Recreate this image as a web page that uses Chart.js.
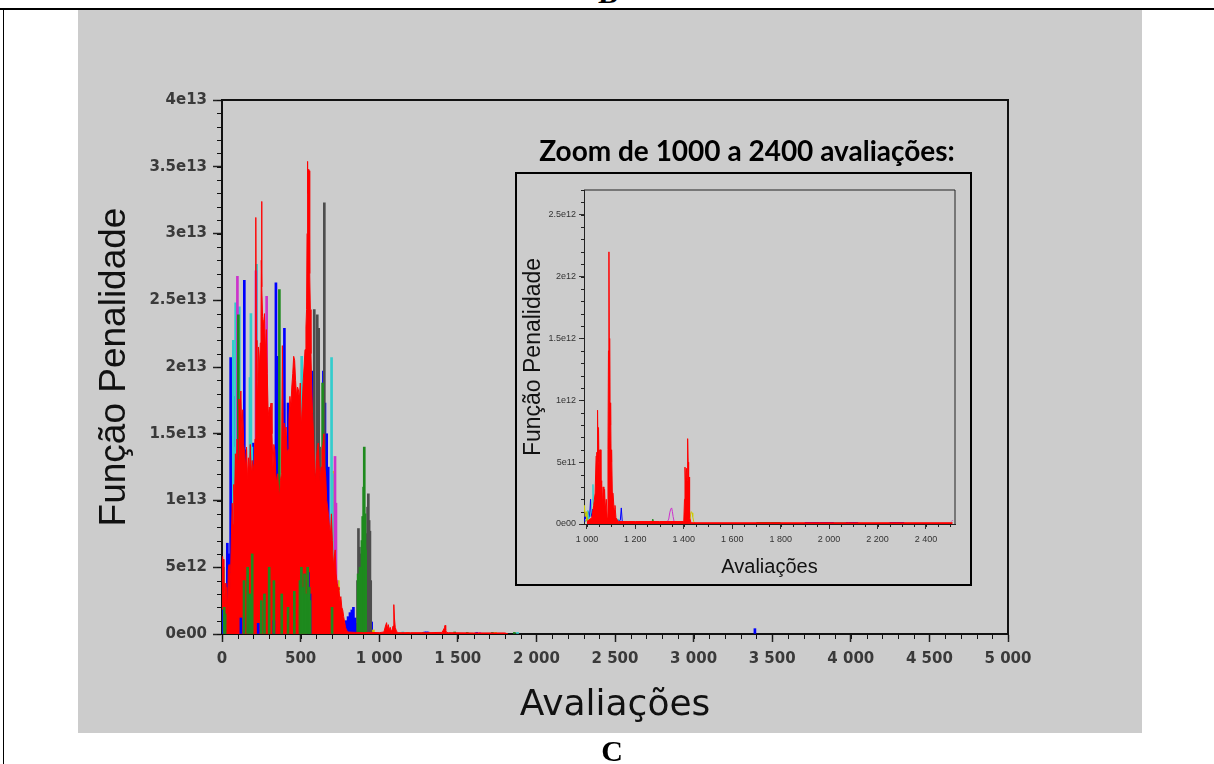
<!DOCTYPE html>
<html>
<head>
<meta charset="utf-8">
<script src="https://cdn.jsdelivr.net/npm/chart.js@4.4.1/dist/chart.umd.min.js"></script>
<style>
  body { margin: 0; width: 1214px; height: 764px; background: #fff; position: relative; overflow: hidden; }
  #topLine { position: absolute; left: 0; top: 8px; width: 1214px; height: 2px; background: #000; }
  #leftLine { position: absolute; left: 3px; top: 8px; width: 1px; height: 756px; background: #000; }
  #topCut { position: absolute; left: 598px; top: 0; width: 20px; height: 3px; overflow: hidden; }
  #topCut span { position: absolute; left: 0; bottom: -5px; font: bold 30px/1 "Liberation Serif", serif; }
  #panel { position: absolute; left: 78px; top: 10px; width: 1064px; height: 723px; background: #cccccc; }
  #mainChart { position: absolute; left: 0; top: 0; }
  #insetChart { position: absolute; left: 515px; top: 172px; }
  #insetFrame { position: absolute; left: 515px; top: 172px; width: 457px; height: 414px; box-sizing: border-box; border: 2px solid #000; }
  #insetTitle { position: absolute; left: 515px; top: 136px; width: 464px; text-align: center; font: bold 28px/28px Lato, "Open Sans", sans-serif; color: #000; white-space: nowrap; }
  #letter { position: absolute; left: 0; top: 736px; width: 1224px; text-align: center; font: bold 30px/30px "Liberation Serif", serif; color: #000; }
</style>
</head>
<body>
<div id="topLine"></div>
<div id="leftLine"></div>
<div id="topCut"><span>B</span></div>
<div id="panel"></div>
<canvas id="mainChart" width="1214" height="764"></canvas>
<canvas id="insetChart" width="457" height="414"></canvas>
<div id="insetFrame"></div>
<div id="insetTitle">Zoom de 1000 a 2400 avaliações:</div>
<div id="letter">C</div>
<script>
// tick labels
const mainXTicks = [0, 500, 1000, 1500, 2000, 2500, 3000, 3500, 4000, 4500, 5000];
const mainYTicks = [0, 5e12, 1e13, 1.5e13, 2e13, 2.5e13, 3e13, 3.5e13, 4e13];
const insetXTicks = [1000, 1200, 1400, 1600, 1800, 2000, 2200, 2400];
const insetYTicks = [0, 5e11, 1e12, 1.5e12, 2e12, 2.5e12];

// main chart, values in units of 1e12
const redX = [0, 4, 8, 12, 16, 20, 25, 30, 35, 40,
  45, 50, 55, 60, 65, 70, 75, 80, 85, 90,
  96, 102, 108, 114, 120, 126, 132, 138, 144, 150,
  156, 162, 168, 174, 180, 186, 192, 198, 204, 210,
  214, 216, 218, 222, 226, 232, 238, 244, 248, 250,
  252, 254, 258, 264, 270, 276, 282, 288, 294, 300,
  306, 312, 318, 324, 330, 336, 342, 348, 354, 360,
  366, 372, 378, 384, 390, 396, 402, 408, 414, 420,
  426, 432, 438, 444, 450, 456, 462, 468, 474, 480,
  486, 492, 498, 504, 510, 516, 522, 528, 534, 538,
  541, 543, 546, 549, 552, 555, 558, 562, 566, 570,
  576, 582, 588, 594, 600, 606, 612, 618, 624, 630,
  636, 642, 648, 654, 660, 666, 672, 678, 684, 690,
  696, 702, 708, 714, 720, 726, 732, 738, 744, 750,
  756, 762, 768, 774, 780, 786, 792, 800, 850, 900,
  950, 1000, 1030, 1040, 1047, 1052, 1058, 1064, 1070, 1076,
  1082, 1088, 1092, 1094, 1097, 1102, 1110, 1120, 1200, 1300,
  1400, 1412, 1416, 1419, 1423, 1428, 1440, 1600, 1800, 1820];
const redY = [5.8, 4.5, 5.6, 3.2, 2.4, 3.8, 2.0, 3.5, 1.8, 4.8,
  5.2, 3.0, 4.6, 7.5, 9.8, 8.2, 11.2, 10.0, 13.5, 12.0,
  14.6, 13.0, 17.6, 16.2, 18.2, 15.0, 16.8, 14.2, 13.6, 12.4,
  14.0, 11.6, 13.2, 12.0, 14.2, 11.8, 13.0, 12.2, 12.8, 14.6,
  18.0, 31.2, 22.0, 19.0, 17.5, 21.5, 20.0, 21.8, 23.0, 28.0,
  32.4, 26.0, 23.8, 23.0, 24.0, 21.0, 22.8, 19.5, 16.3, 17.0,
  16.8, 17.3, 15.0, 12.5, 14.2, 13.8, 12.0, 11.3, 12.0, 10.8,
  10.3, 11.5, 12.0, 21.6, 14.0, 15.8, 15.2, 15.5, 13.5, 13.8,
  16.0, 17.8, 17.0, 18.5, 19.5, 20.8, 20.5, 19.0, 17.8, 18.5,
  18.3, 17.6, 18.8, 15.3, 17.0, 18.8, 20.0, 21.3, 23.0, 24.3,
  30.0, 35.4, 33.0, 34.8, 30.0, 34.7, 27.0, 24.3, 21.0, 18.8,
  16.5, 15.0, 12.5, 11.3, 13.0, 13.8, 14.3, 12.6, 11.3, 12.5,
  13.8, 14.2, 15.0, 12.5, 11.8, 10.0, 9.5, 8.8, 8.0, 7.5,
  9.0, 7.0, 5.0, 5.8, 6.3, 4.5, 3.8, 3.5, 3.3, 2.5,
  2.8, 2.0, 1.8, 1.3, 0.9, 0.5, 0.3, 0.15, 0.12, 0.1,
  0.12, 0.1, 0.15, 0.6, 0.85, 0.4, 0.7, 0.3, 0.5, 0.2,
  0.3, 0.6, 1.6, 2.2, 1.2, 0.5, 0.2, 0.1, 0.1, 0.1,
  0.12, 0.4, 0.5, 0.65, 0.3, 0.12, 0.1, 0.08, 0.08, 0];

// spikes rising above the red mass
const blueX = [34, 42, 55, 60, 64, 68, 72, 81, 142, 151, 199, 205, 343, 352, 397, 407, 420, 426, 488,
  577, 585, 645, 655, 666, 676, 687, 697, 790, 802, 814, 826, 836, 848, 860, 872, 884, 896, 908,
  920, 932, 944, 952, 1290, 1300, 1310, 1620, 3390];
const blueY = [6.8, 6.0, 20.7, 14.8, 14.8, 12.0, 11.3, 17.8, 26.5, 13.8, 14.3, 10.5, 26.3, 20.8, 22.9, 14.8, 17.3, 12.0, 11.4,
  19.7, 10.3, 19.7, 17.3, 15.0, 12.5, 7.5, 3.8, 1.0, 1.3, 1.6, 1.8, 2.0, 1.2, 0.8, 1.0, 1.2, 0.9, 1.1,
  1.0, 1.1, 0.9, 0.9, 0.15, 0.15, 0.15, 0.12, 0.4];

const greenX = [8, 104, 110, 157, 170, 186, 199, 365, 372, 640, 646, 866, 878, 890, 895, 901, 905, 910,
  914, 1280, 1480, 1560, 1720, 1860];
const greenY = [5.0, 23.9, 9.0, 11.3, 10.5, 11.3, 10.0, 25.8, 8.0, 18.8, 11.0, 4.5, 5.0, 7.0, 8.8, 11.0, 14.0, 9.0,
  6.3, 0.12, 0.15, 0.12, 0.12, 0.12];

const grayX = [587, 594, 606, 615, 621, 651, 657, 862, 868, 874, 880, 886, 892, 898, 904, 910, 916, 920, 926, 931,
  936, 941, 946];
const grayY = [24.3, 12.0, 23.9, 22.9, 14.0, 32.3, 9.0, 4.0, 7.9, 6.5, 5.5, 6.0, 5.0, 6.5, 7.0, 7.0, 7.5, 7.5, 9.5, 10.5,
  8.5, 7.7, 4.0];

const cyanX = [4, 72, 78, 87, 93, 110, 116, 178, 184, 190, 220, 507, 512, 697, 702, 1150, 1880];
const cyanY = [1.5, 22.0, 14.0, 24.8, 18.8, 24.5, 12.0, 19.2, 24.0, 14.0, 27.7, 20.8, 10.0, 20.7, 12.0, 0.15, 0.12];

const magentaX = [98, 216, 284, 290, 719, 725, 731, 1640];
const magentaY = [26.8, 27.2, 25.3, 12.0, 13.3, 9.8, 4.0, 0.12];

const yellowX = [4, 222, 228, 488, 708, 714, 740, 963, 1180, 1740];
const yellowY = [2.5, 19.0, 12.0, 11.3, 12.2, 8.0, 4.0, 0.3, 0.12, 0.12];

const orangeX = [261, 266];
const orangeY = [23.5, 14.0];

// short marks in front of the red mass, near the floor
const greenLowX = [14, 20, 140, 163, 178, 192, 250, 270, 300, 330, 380, 420, 460, 496, 505, 515, 525, 535, 545, 555, 560, 700];
const greenLowY = [2.0, 1.5, 4.0, 5.0, 3.0, 6.0, 2.5, 3.0, 5.0, 4.0, 3.0, 2.0, 3.2, 4.0, 5.0, 3.5, 4.5, 3.0, 5.0, 3.5, 2.5, 2.0];
const blueLowX = [8, 120, 230, 330, 549, 560];
const blueLowY = [1.8, 1.2, 0.8, 1.0, 4.6, 3.0];

// inset (zoom 1000 - 2400), values in units of 1e12
const insetRedX = [1000, 1020, 1028, 1034, 1038, 1041, 1043, 1044, 1046, 1048,
  1050, 1052, 1054, 1056, 1058, 1061, 1064, 1067, 1070, 1073,
  1076, 1080, 1084, 1087, 1089, 1091, 1093, 1094, 1096, 1098,
  1100, 1102, 1105, 1108, 1112, 1116, 1120, 1130, 1200, 1300,
  1400, 1403, 1405, 1408, 1411, 1414, 1416, 1418, 1420, 1422,
  1424, 1430, 1800, 2100, 2510];
const insetRedY = [0.02, 0.05, 0.15, 0.25, 0.55, 0.58, 0.3, 0.92, 0.5, 0.78,
  0.45, 0.6, 0.3, 0.6, 0.25, 0.35, 0.15, 0.3, 0.1, 0.28,
  0.12, 0.2, 0.05, 0.6, 1.4, 2.2, 1.0, 1.5, 0.8, 0.98,
  0.5, 0.6, 0.25, 0.25, 0.12, 0.15, 0.05, 0.02, 0.02, 0.02,
  0.02, 0.2, 0.46, 0.3, 0.45, 0.35, 0.69, 0.5, 0.2, 0.38,
  0.05, 0.01, 0.01, 0.01, 0.01];

const insetBlueX = [990, 993, 996, 999, 1003, 1007, 1011, 1015, 1018, 1022,
  1026, 1030, 1036, 1050, 1100, 1138, 1142, 1146, 1160, 1300,
  1310, 1320, 1330, 1340, 1345, 1900, 1960, 2020, 2080, 2120,
  2125, 2250, 2280, 2310, 2315];
const insetBlueY = [0.02, 0.09, 0.04, 0.07, 0.03, 0.1, 0.05, 0.2, 0.06, 0.12,
  0.04, 0.08, 0.03, 0.02, 0.02, 0.03, 0.13, 0.02, 0.01, null,
  0.01, 0.02, 0.015, 0.02, null, 0.012, 0.012, 0.012, 0.012, 0.012,
  null, 0.012, 0.012, 0.012, null];

const insetCyanX = [1000, 1004, 1008, 1013, 1018, 1022, 1025, 1028, 1033, 1040,
  1088, 1091, 1095, 1130, 1135, 1140, 2020, 2070, 2075];
const insetCyanY = [0.03, 0.11, 0.04, 0.06, 0.1, 0.2, 0.32, 0.1, 0.05, 0.02,
  0.02, 0.1, 0.03, 0.04, 0.01, null, 0.012, 0.012, null];

const insetYellowX = [988, 990, 993, 997, 1000, 1060, 1064, 1068, 1072, 1088,
  1092, 1096, 1100, 1110, 1115, 1425, 1428, 1431, 1434, 1437,
  1441, 1445];
const insetYellowY = [0.1, 0.15, 0.06, 0.1, 0.03, 0.03, 0.12, 0.15, 0.04, 0.05,
  0.15, 0.12, 0.05, 0.02, null, 0.01, 0.08, 0.1, 0.09, 0.06,
  0.02, 0.01];

const insetMagentaX = [1330, 1338, 1342, 1346, 1350, 1353, 1356, 1360, 1365, 1370, 2505, 2510];
const insetMagentaY = [0.01, 0.04, 0.09, 0.12, 0.13, 0.1, 0.06, 0.02, 0.01, null, 0.02, 0.03];

const insetGreenX = [995, 1000, 1004, 1030, 1050, 1060, 1064, 1068, 1080, 1100, 1105, 1268, 1272, 1275, 1278, 1290, 1700, 1760, 1800, 1805];
const insetGreenY = [0.02, 0.05, 0.02, 0.03, 0.06, 0.1, 0.04, 0.08, 0.05, 0.02, null, 0.01, 0.04, 0.02, 0.01, null, 0.012, 0.012, 0.012, null];

const E12 = 1e12;
function pts(xs, ys) {
  return xs.map((x, i) => ({ x: x, y: ys[i] === null ? null : ys[i] * E12 }));
}

function sciLabel(v) {
  if (v === 0) return '0e00';
  const e = Math.floor(Math.log10(v) + 1e-9);
  const m = Math.round(v / Math.pow(10, e) * 100) / 100;
  return m + 'e' + e;
}

function spaced(v) {
  return String(v).replace(/\B(?=(\d{3})+(?!\d))/g, ' ');
}

function spikes(xs, ys, color) {
  return { type: 'bar', data: pts(xs, ys), backgroundColor: color, borderWidth: 0, barThickness: 2, grouped: false };
}

function trace(xs, ys, color, filled) {
  return { type: 'line', data: pts(xs, ys), borderColor: color, backgroundColor: color, borderWidth: 1,
    fill: filled ? 'origin' : false, pointRadius: 0, tension: 0, spanGaps: false };
}

// top/right frame of the plot box plus the short minor ticks
const plotFrame = {
  id: 'plotFrame',
  afterDraw(chart, args, opts) {
    const ctx = chart.ctx;
    const a = chart.chartArea;
    const x = chart.scales.x;
    const y = chart.scales.y;
    ctx.save();
    ctx.strokeStyle = opts.color;
    ctx.lineWidth = opts.width;
    ctx.beginPath();
    ctx.moveTo(a.left, a.top);
    ctx.lineTo(a.right, a.top);
    ctx.lineTo(a.right, a.bottom);
    ctx.stroke();

    ctx.lineWidth = 1;
    ctx.beginPath();
    for (let v = Math.ceil(x.min / opts.xMinor) * opts.xMinor; v <= x.max; v += opts.xMinor) {
      const px = Math.round(x.getPixelForValue(v)) + 0.5;
      ctx.moveTo(px, a.bottom);
      ctx.lineTo(px, a.bottom + opts.minorLen);
    }
    for (let v = 0; v <= y.max; v += opts.yMinor) {
      const py = Math.round(y.getPixelForValue(v)) + 0.5;
      ctx.moveTo(a.left, py);
      ctx.lineTo(a.left - opts.minorLen, py);
    }
    ctx.stroke();
    ctx.restore();
  }
};

const tickFont = { family: 'DejaVu Sans', weight: 'bold', size: 15 };

new Chart(document.getElementById('mainChart'), {
  type: 'bar',
  data: {
    datasets: [
      spikes(greenLowX, greenLowY, '#1e8a1e'),
      spikes(blueLowX, blueLowY, '#0000ff'),
      trace(redX, redY, '#ff0000', true),
      spikes(greenX, greenY, '#1e8a1e'),
      spikes(grayX, grayY, '#4d4d4d'),
      spikes(magentaX, magentaY, '#cc33cc'),
      spikes(cyanX, cyanY, '#33cccc'),
      spikes(orangeX, orangeY, '#ff9900'),
      spikes(yellowX, yellowY, '#cccc00'),
      spikes(blueX, blueY, '#0000ff')
    ]
  },
  options: {
    responsive: false,
    animation: false,
    layout: { padding: { left: 89, top: 100, right: 206, bottom: 33 } },
    plugins: {
      legend: { display: false },
      tooltip: { enabled: false },
      plotFrame: { color: '#111', width: 2, xMinor: 100, yMinor: 1e12, minorLen: 5 }
    },
    scales: {
      x: {
        type: 'linear', min: 0, max: 5000, offset: false,
        afterBuildTicks: s => { s.ticks = mainXTicks.map(v => ({ value: v })); },
        afterFit: s => { s.height = 97; },
        grid: { drawOnChartArea: false, drawTicks: true, tickLength: 8, tickColor: '#222', tickWidth: 1.5, offset: false },
        border: { display: true, color: '#111', width: 2 },
        ticks: { autoSkip: false, maxRotation: 0, padding: 8, color: '#3a3a3a', font: tickFont, callback: v => spaced(v) },
        title: { display: true, text: 'Avaliações', color: '#111', font: { family: 'DejaVu Sans', size: 36 }, padding: { top: 4, bottom: 4 } }
      },
      y: {
        type: 'linear', min: 0, max: 4e13,
        afterBuildTicks: s => { s.ticks = mainYTicks.map(v => ({ value: v })); },
        afterFit: s => { s.width = 133; },
        grid: { drawOnChartArea: false, drawTicks: true, tickLength: 9, tickColor: '#222', tickWidth: 1.5 },
        border: { display: true, color: '#111', width: 2 },
        ticks: { autoSkip: false, padding: 6, color: '#3a3a3a', font: tickFont, callback: v => sciLabel(v) },
        title: { display: true, text: 'Função Penalidade', color: '#111', font: { family: 'Liberation Sans', size: 37 }, padding: { top: 4, bottom: 4 } }
      }
    }
  },
  plugins: [plotFrame]
});

const smallFont = { family: 'Liberation Sans', size: 9 };

new Chart(document.getElementById('insetChart'), {
  type: 'line',
  data: {
    datasets: [
      trace(insetRedX, insetRedY, '#ff0000', true),
      trace(insetMagentaX, insetMagentaY, '#cc33cc', false),
      trace(insetYellowX, insetYellowY, '#cccc00', false),
      trace(insetGreenX, insetGreenY, '#1e8a1e', false),
      trace(insetCyanX, insetCyanY, '#33cccc', false),
      trace(insetBlueX, insetBlueY, '#0000ff', false)
    ]
  },
  options: {
    responsive: false,
    animation: false,
    layout: { padding: { left: 1, top: 18, right: 17, bottom: 3 } },
    plugins: {
      legend: { display: false },
      tooltip: { enabled: false },
      plotFrame: { color: '#222', width: 1, xMinor: 50, yMinor: 1e11, minorLen: 3 }
    },
    scales: {
      x: {
        type: 'linear', min: 988, max: 2520,
        afterBuildTicks: s => { s.ticks = insetXTicks.map(v => ({ value: v })); },
        afterFit: s => { s.height = 59; },
        grid: { drawOnChartArea: false, drawTicks: true, tickLength: 5, tickColor: '#333' },
        border: { display: true, color: '#222', width: 1 },
        ticks: { autoSkip: false, maxRotation: 0, padding: 5, color: '#333', font: smallFont, callback: v => spaced(v) },
        title: { display: true, text: 'Avaliações', color: '#111', font: { family: 'Liberation Sans', size: 20 }, padding: { top: 4, bottom: 4 } }
      },
      y: {
        type: 'linear', min: 0, max: 2.7e12,
        afterBuildTicks: s => { s.ticks = insetYTicks.map(v => ({ value: v })); },
        afterFit: s => { s.width = 68; },
        grid: { drawOnChartArea: false, drawTicks: true, tickLength: 5, tickColor: '#333' },
        border: { display: true, color: '#222', width: 1 },
        ticks: { autoSkip: false, padding: 3, color: '#333', font: smallFont, callback: v => sciLabel(v) },
        title: { display: true, text: 'Função Penalidade', color: '#111', font: { family: 'Liberation Sans', size: 23 }, padding: { top: 4, bottom: 4 } }
      }
    }
  },
  plugins: [plotFrame]
});
</script>
</body>
</html>
